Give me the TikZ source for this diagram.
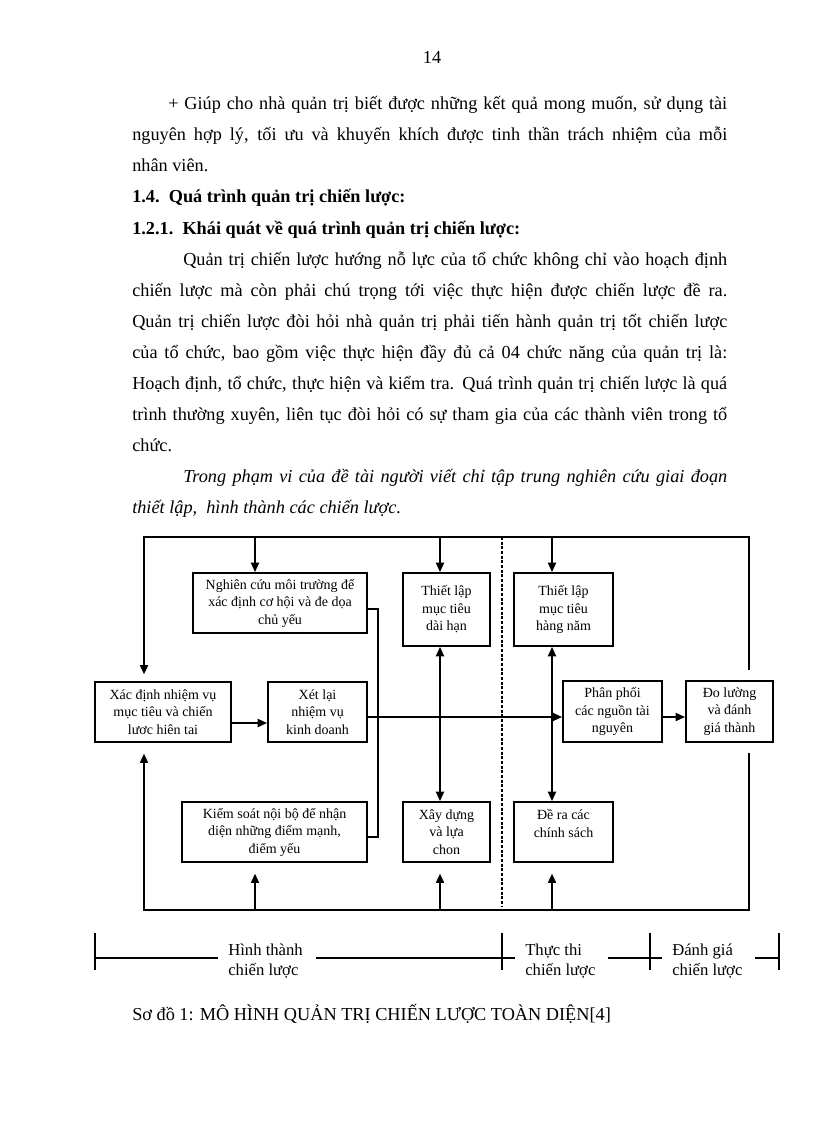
\documentclass[tikz,border=0pt]{standalone}
\usepackage{fontspec}
\setmainfont{Liberation Serif}
\usetikzlibrary{arrows.meta}
\newlength\pxu \setlength\pxu{0.75pt}
\newcommand\jl[2]{\makebox[#1\pxu][s]{#2}}
\begin{document}
\begin{tikzpicture}[x=0.75pt,y=-0.75pt,
  body/.style={anchor=base west,inner sep=0pt,font=\fontsize{13.7}{16}\selectfont},
  box/.style 2 args={draw,line width=1.4pt,minimum width=#1*0.75pt,minimum height=#2*0.75pt,inner sep=0pt,align=center,font=\fontsize{10.5}{13.1}\selectfont},
  ln/.style={line width=1.4pt},
  arr/.style={line width=1.4pt,-{Triangle[length=7pt,width=6pt]}},
  darr/.style={line width=1.4pt,{Triangle[length=7pt,width=6pt]}-{Triangle[length=7pt,width=6pt]}},
  phase/.style={anchor=west,inner sep=0pt,align=left,font=\fontsize{12.5}{15}\selectfont},
  tickln/.style={line width=1.5pt},
  thinln/.style={line width=0.8pt}
]
\useasboundingbox[fill=white] (0,0) rectangle (816,1123);

% page number and body text
\node[body,anchor=base] (pg) at (432,64) {14};
\node[body] (l1) at (168,110) {\jl{559}{+ Giúp cho nhà quản trị biết được những kết quả mong muốn, sử dụng tài}};
\node[body] (l2) at (132,141) {\jl{595}{nguyên hợp lý, tối ưu và khuyến khích được tinh thần trách nhiệm của mỗi}};
\node[body] (l3) at (132,172) {nhân viên.};
\node[body] (l4) at (132,203) {\bfseries 1.4.\ \ Quá trình quản trị chiến lược:};
\node[body] (l5) at (132,234) {\bfseries 1.2.1.\ \ Khái quát về quá trình quản trị chiến lược:};
\node[body] (l6) at (183,265) {\jl{544}{Quản trị chiến lược hướng nỗ lực của tổ chức không chỉ vào hoạch định}};
\node[body] (l7) at (132,296) {\jl{595}{chiến lược mà còn phải chú trọng tới việc thực hiện được chiến lược đề ra.}};
\node[body] (l8) at (132,327) {\jl{595}{Quản trị chiến lược đòi hỏi nhà quản trị phải tiến hành quản trị tốt chiến lược}};
\node[body] (l9) at (132,358) {\jl{595}{của tổ chức, bao gồm việc thực hiện đầy đủ cả 04 chức năng của quản trị là:}};
\node[body] (l10) at (132,389) {\jl{595}{Hoạch định, tổ chức, thực hiện và kiểm tra. Quá trình quản trị chiến lược là quá}};
\node[body] (l11) at (132,420) {\jl{595}{trình thường xuyên, liên tục đòi hỏi có sự tham gia của các thành viên trong tổ}};
\node[body] (l12) at (132,451) {chức.};
\node[body] (l13) at (183,482) {\itshape\jl{544}{Trong phạm vi của đề tài người viết chỉ tập trung nghiên cứu giai đoạn}};
\node[body] (l14) at (132,513) {\itshape thiết lập,\ \ hình thành các chiến lược.};

% boxes
\node[box={174}{60}] (ng) at (280,603) {Nghiên cứu môi trường để\\xác định cơ hội và đe dọa\\chủ yếu};
\node[box={87}{73}] (tl1) at (446.5,609.5) {Thiết lập\\mục tiêu\\dài hạn};
\node[box={99}{73}] (tl2) at (563.5,609.5) {Thiết lập\\mục tiêu\\hàng năm};
\node[box={136}{60}] (xd) at (163,712) {Xác định nhiệm vụ\\mục tiêu và chiến\\lươc hiên tai};
\node[box={99}{60}] (xl) at (317.5,712) {Xét lại\\nhiệm vụ\\kinh doanh};
\node[box={99}{61}] (pp) at (612.5,711.5) {Phân phối\\các nguồn tài\\nguyên};
\node[box={87}{61}] (dl) at (729.5,711.5) {Đo lường\\và đánh\\giá thành};
\node[box={185}{60}] (ks) at (274.5,832) {Kiểm soát nội bộ để nhận\\diện những điểm mạnh,\\điểm yếu};
\node[box={87}{60}] (xay) at (446.5,832) {Xây dựng\\và lựa\\chon};
\node[box={99}{60}] (dr) at (563.5,832) {Đề ra các\\chính sách\\\mbox{}};

% frame coordinates
\coordinate (tl) at (144,537);
\coordinate (tr) at (749,537);
\coordinate (trd) at (749,670);
\coordinate (bl) at (144,910);
\coordinate (br) at (749,910);
\coordinate (brd) at (749,753);
\coordinate (a1) at (255,0);
\coordinate (a2) at (440,0);
\coordinate (a3) at (552,0);
\coordinate (m1) at (0,723);
\coordinate (m2) at (0,717);
\coordinate (r1) at (378,609);
\coordinate (r2) at (378,837);
\coordinate (dtop) at (502,537);
\coordinate (dbot) at (502,907);

% outer loop
\draw[arr,shorten >=5pt] (trd) -- (tr) -- (tl) -- (tl |- xd.north);
\draw[arr,shorten >=8pt] (brd) -- (br) -- (bl) -- (bl |- xd.south);

% top arrows
\draw[arr] (a1 |- tl) -- (a1 |- ng.north);
\draw[arr] (a2 |- tl) -- (a2 |- tl1.north);
\draw[arr] (a3 |- tl) -- (a3 |- tl2.north);

% bottom arrows
\draw[arr,shorten >=8pt] (a1 |- bl) -- (a1 |- ks.south);
\draw[arr,shorten >=8pt] (a2 |- bl) -- (a2 |- xay.south);
\draw[arr,shorten >=8pt] (a3 |- bl) -- (a3 |- dr.south);

% vertical double arrows
\draw[darr] (a2 |- tl1.south) -- (a2 |- xay.north);
\draw[darr] (a3 |- tl2.south) -- (a3 |- dr.north);

% middle row
\draw[arr] (xd.east |- m1) -- (xl.west |- m1);
\draw[arr] (xl.east |- m2) -- (pp.west |- m2);
\draw[arr] (pp.east |- m2) -- (dl.west |- m2);

% bracket between ng and ks
\draw[ln] (ng.east |- r1) -- (r1) -- (r2) -- (ks.east |- r2);

% dashed divider
\draw[line width=1.2pt,dash pattern=on 2.2pt off 1.3pt] (dtop) -- (dbot);

% timeline
\coordinate (t1) at (95,958);
\coordinate (t2) at (502,958);
\coordinate (t3) at (650,958);
\coordinate (t4) at (779,958);
\foreach \t in {t1,t2,t3,t4}{
  \draw[tickln] ([yshift=18.75pt]\t) -- ([yshift=-9pt]\t);
}
\node[phase] (ph1) at (228,961) {Hình thành\\chiến lược};
\node[phase] (ph2) at (525,961) {Thực thi\\chiến lược};
\node[phase] (ph3) at (672,961) {Đánh giá\\chiến lược};
\draw[thinln] (t1) -- ([xshift=-7.5pt]ph1.west |- t1);
\draw[thinln] ([xshift=9.75pt]ph1.east |- t1) -- (t2);
\draw[thinln] (t2) -- ([xshift=-7.5pt]ph2.west |- t2);
\draw[thinln] ([xshift=9pt]ph2.east |- t2) -- ([xshift=9pt]t3);
\draw[thinln] ([xshift=9pt]ph3.east |- t4) -- (t4);

% caption
\node[body] (cap) at (132,1020) {Sơ đồ 1: MÔ HÌNH QUẢN TRỊ CHIẾN LƯỢC TOÀN DIỆN[4]};
\end{tikzpicture}
\end{document}
